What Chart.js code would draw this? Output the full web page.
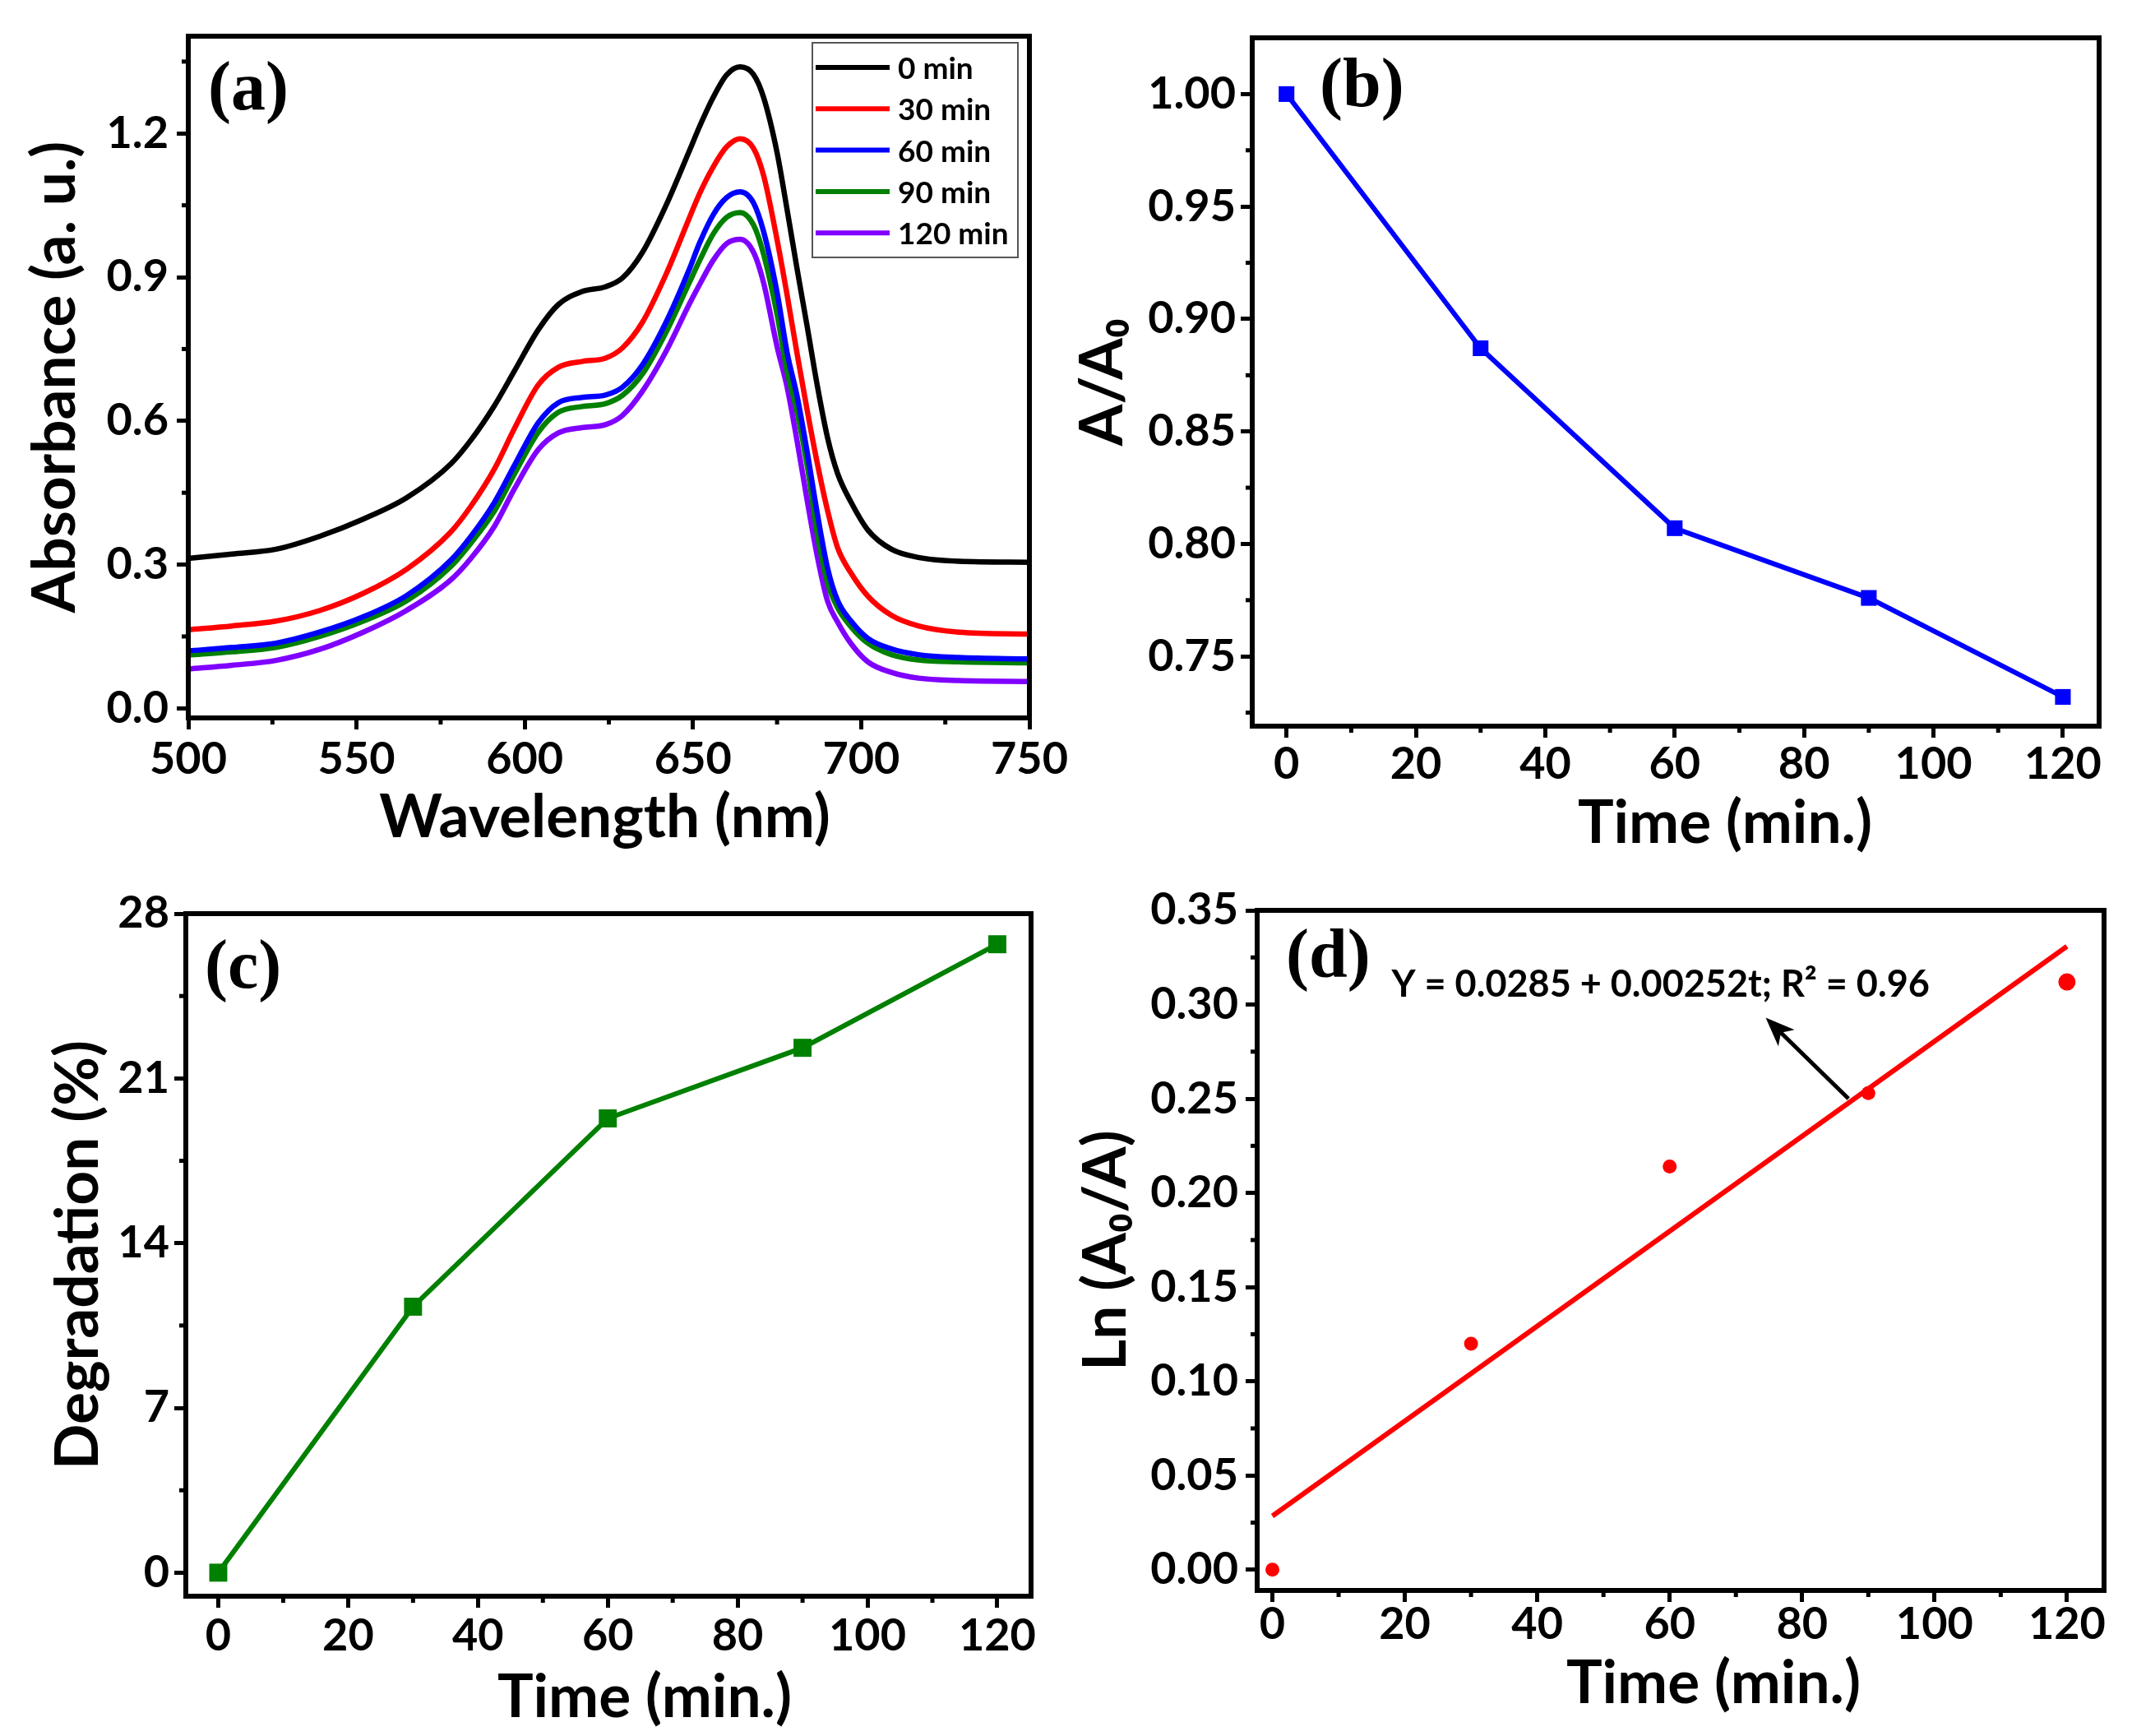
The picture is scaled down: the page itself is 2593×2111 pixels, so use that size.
<!DOCTYPE html>
<html lang="en">
<head>
  <meta charset="UTF-8">
  <title>Photocatalytic degradation</title>
  <script src="https://cdn.jsdelivr.net/npm/chart.js"></script>
  <style>
    body {
      margin: 0;
      background: #fff;
      width: 2593px;
      height: 2111px;
      position: relative;
      overflow: hidden;
    }
    canvas {
      position: absolute;
    }
  </style>
</head>
<body>
  <canvas id="chartA"></canvas>
  <canvas id="chartB"></canvas>
  <canvas id="chartC"></canvas>
  <canvas id="chartD"></canvas>

  <script>
    // (a) absorption spectra
    const wavelength = [500, 513, 526, 539, 552, 565, 578, 584, 591, 597, 604, 610, 617, 624, 629, 635, 642, 649, 652, 656,
      660, 664, 668, 671, 675, 678, 681, 684, 687, 690, 693, 697, 702, 709, 717, 729, 750];
    const abs0 = [0.313, 0.322, 0.332, 0.359, 0.395, 0.440, 0.510, 0.560, 0.632, 0.705, 0.790, 0.843, 0.870, 0.880, 0.898, 0.952, 1.050, 1.165, 1.215, 1.275,
      1.322, 1.339, 1.323, 1.275, 1.160, 1.040, 0.915, 0.795, 0.672, 0.565, 0.490, 0.430, 0.372, 0.332, 0.315, 0.307, 0.305];
    const abs30 = [0.164, 0.172, 0.182, 0.204, 0.240, 0.291, 0.368, 0.422, 0.500, 0.585, 0.675, 0.712, 0.724, 0.731, 0.752, 0.806, 0.906, 1.025, 1.075, 1.130,
      1.172, 1.189, 1.169, 1.112, 0.978, 0.862, 0.738, 0.620, 0.510, 0.413, 0.335, 0.282, 0.234, 0.194, 0.172, 0.159, 0.155];
    const abs60 = [0.120, 0.127, 0.136, 0.159, 0.191, 0.236, 0.309, 0.359, 0.430, 0.508, 0.596, 0.638, 0.649, 0.654, 0.670, 0.717, 0.806, 0.918, 0.972, 1.030,
      1.066, 1.078, 1.055, 0.995, 0.868, 0.742, 0.650, 0.533, 0.405, 0.293, 0.225, 0.182, 0.146, 0.124, 0.112, 0.106, 0.103];
    const abs90 = [0.111, 0.118, 0.127, 0.150, 0.182, 0.225, 0.296, 0.345, 0.412, 0.490, 0.576, 0.618, 0.630, 0.636, 0.653, 0.698, 0.785, 0.890, 0.935, 0.990,
      1.025, 1.035, 1.009, 0.948, 0.822, 0.703, 0.617, 0.505, 0.362, 0.262, 0.210, 0.170, 0.136, 0.112, 0.101, 0.097, 0.095];
    const abs120 = [0.082, 0.090, 0.100, 0.123, 0.159, 0.205, 0.268, 0.313, 0.380, 0.459, 0.540, 0.575, 0.586, 0.592, 0.611, 0.662, 0.745, 0.845, 0.885, 0.935,
      0.970, 0.979, 0.952, 0.888, 0.755, 0.670, 0.556, 0.432, 0.316, 0.224, 0.180, 0.135, 0.097, 0.075, 0.063, 0.058, 0.056];
    const spectraLabels = ['0 min', '30 min', '60 min', '90 min', '120 min'];
    const spectraColors = ['#000000', '#ff0000', '#0000ff', '#008000', '#8000ff'];
    const aXTicks = [500, 550, 600, 650, 700, 750];
    const aXMinor = [525, 575, 625, 675, 725];
    const aYTicks = [0.0, 0.3, 0.6, 0.9, 1.2];
    const aYMinor = [0.15, 0.45, 0.75, 1.05, 1.35];

    // (b)-(d) kinetics
    const time = [0, 30, 60, 90, 120];
    const ratio = [1.000, 0.887, 0.807, 0.776, 0.732];
    const degradation = [0, 11.3, 19.3, 22.3, 26.7];
    const lnRatio = [0.000, 0.120, 0.214, 0.253, 0.312];
    const fitTime = [0, 120];
    const fitLn = [0.0285, 0.3309];
    const timeTicks = [0, 20, 40, 60, 80, 100, 120];
    const timeMinor = [10, 30, 50, 70, 90, 110];
    const bYTicks = [0.75, 0.80, 0.85, 0.90, 0.95, 1.00];
    const bYMinor = [0.725, 0.775, 0.825, 0.875, 0.925, 0.975];
    const cYTicks = [0, 7, 14, 21, 28];
    const cYMinor = [3.5, 10.5, 17.5, 24.5];
    const dYTicks = [0.00, 0.05, 0.10, 0.15, 0.20, 0.25, 0.30, 0.35];
    const dYMinor = [0.025, 0.075, 0.125, 0.175, 0.225, 0.275, 0.325];
    const fitText = 'Y = 0.0285 + 0.00252t; R² = 0.96';
    const arrowFrom = [87, 0.250];
    const arrowTo = [74.5, 0.293];

    Chart.defaults.font.family = 'Lato';
    Chart.defaults.font.weight = 'bold';
    Chart.defaults.color = '#000';

    const TITLE_FONT = 'bold 73px Lato';

    function axis(o) {
      return {
        type: 'linear',
        min: o.min,
        max: o.max,
        afterBuildTicks: s => { s.ticks = o.ticks.map(v => ({ value: v })); },
        afterFit: s => {
          if (o.horizontal) s.height = o.size; else s.width = o.size;
          s.paddingLeft = s.paddingRight = s.paddingTop = s.paddingBottom = 0;
        },
        ticks: {
          font: { size: 54, weight: 'bold', lineHeight: 1 },
          padding: o.tickPad,
          maxRotation: 0,
          autoSkip: false,
          color: '#000',
          callback: v => v.toFixed(o.digits)
        },
        grid: { drawOnChartArea: false, drawTicks: true, tickLength: 14, tickWidth: 5, tickColor: '#000' },
        border: { display: false },
        title: {
          display: !!o.title,
          text: o.title || '',
          color: '#000',
          font: { size: 73, weight: 'bold', lineHeight: 1 },
          padding: { top: o.titlePad || 0, bottom: 0 }
        }
      };
    }

    // frame, minor ticks, panel letter and x title
    function decor(o) {
      return {
        id: 'decor',
        afterDraw(chart) {
          const { ctx, chartArea: a, scales } = chart;
          ctx.save();
          ctx.strokeStyle = '#000';
          ctx.lineWidth = 5;
          o.minorX.forEach(v => {
            const px = scales.x.getPixelForValue(v);
            ctx.beginPath(); ctx.moveTo(px, a.bottom); ctx.lineTo(px, a.bottom + 8); ctx.stroke();
          });
          o.minorY.forEach(v => {
            const py = scales.y.getPixelForValue(v);
            ctx.beginPath(); ctx.moveTo(a.left, py); ctx.lineTo(a.left - 8, py); ctx.stroke();
          });
          ctx.lineWidth = 6;
          ctx.strokeRect(a.left, a.top, a.right - a.left, a.bottom - a.top);
          ctx.fillStyle = '#000';
          ctx.font = 'bold 84px "Liberation Serif"';
          ctx.textAlign = 'left';
          ctx.textBaseline = 'alphabetic';
          ctx.fillText(o.label, a.left + o.labelDx, a.top + o.labelDy);
          ctx.font = TITLE_FONT;
          ctx.textAlign = 'center';
          ctx.textBaseline = 'middle';
          ctx.fillText(o.xTitle, (a.left + a.right) / 2 + o.xTitleDx, a.bottom + o.xTitleDy);
          ctx.restore();
        }
      };
    }

    const spectraLegend = {
      id: 'spectraLegend',
      afterDraw(chart) {
        const { ctx, chartArea: a } = chart;
        const x = a.right - 264, y = a.top + 8, w = 250, h = 261;
        ctx.save();
        ctx.fillStyle = '#fff';
        ctx.fillRect(x, y, w, h);
        ctx.strokeStyle = '#555';
        ctx.lineWidth = 2;
        ctx.strokeRect(x, y, w, h);
        ctx.font = 'bold 37px Lato';
        ctx.textBaseline = 'middle';
        ctx.textAlign = 'left';
        chart.data.datasets.forEach((ds, i) => {
          const cy = y + 30 + i * 50.3;
          ctx.strokeStyle = ds.borderColor;
          ctx.lineWidth = 6;
          ctx.beginPath(); ctx.moveTo(x + 4, cy); ctx.lineTo(x + 94, cy); ctx.stroke();
          ctx.fillStyle = '#000';
          ctx.fillText(ds.label, x + 104, cy + 2);
        });
        ctx.restore();
      }
    };

    const fitNote = {
      id: 'fitNote',
      afterDraw(chart) {
        const { ctx, scales: { x, y } } = chart;
        ctx.save();
        ctx.fillStyle = '#000';
        ctx.font = 'bold 45px Lato';
        ctx.textBaseline = 'alphabetic';
        ctx.fillText(fitText, x.getPixelForValue(18), y.getPixelForValue(0.304));
        const x1 = x.getPixelForValue(arrowFrom[0]), y1 = y.getPixelForValue(arrowFrom[1]);
        const x2 = x.getPixelForValue(arrowTo[0]), y2 = y.getPixelForValue(arrowTo[1]);
        const ang = Math.atan2(y2 - y1, x2 - x1);
        ctx.strokeStyle = '#000';
        ctx.lineWidth = 5;
        ctx.beginPath(); ctx.moveTo(x1, y1);
        ctx.lineTo(x2 - 22 * Math.cos(ang), y2 - 22 * Math.sin(ang)); ctx.stroke();
        ctx.beginPath();
        ctx.moveTo(x2, y2);
        ctx.lineTo(x2 - 38 * Math.cos(ang - 0.38), y2 - 38 * Math.sin(ang - 0.38));
        ctx.lineTo(x2 - 26 * Math.cos(ang), y2 - 26 * Math.sin(ang));
        ctx.lineTo(x2 - 38 * Math.cos(ang + 0.38), y2 - 38 * Math.sin(ang + 0.38));
        ctx.closePath();
        ctx.fill();
        ctx.restore();
      }
    };

    function place(id, left, top, width, height) {
      const c = document.getElementById(id);
      c.width = width; c.height = height;
      c.style.left = left + 'px'; c.style.top = top + 'px';
      return c;
    }

    const common = {
      responsive: false,
      animation: false,
      devicePixelRatio: 1,
      events: [],
      plugins: { legend: { display: false }, tooltip: { enabled: false } }
    };

    const xy = (xs, ys) => xs.map((v, i) => ({ x: v, y: ys[i] }));

    // (a)
    new Chart(place('chartA', 0, 0, 1305, 1050), {
      type: 'line',
      data: {
        datasets: [abs0, abs30, abs60, abs90, abs120].map((s, i) => ({
          label: spectraLabels[i],
          data: xy(wavelength, s),
          borderColor: spectraColors[i],
          borderWidth: 6.5,
          pointRadius: 0,
          cubicInterpolationMode: 'monotone'
        }))
      },
      options: {
        ...common,
        layout: { padding: { left: 0, top: 44, right: 53, bottom: 0 } },
        scales: {
          x: axis({ horizontal: true, min: 500, max: 750, ticks: aXTicks, digits: 0, size: 177, tickPad: 10 }),
          y: axis({ min: -0.02, max: 1.403, ticks: aYTicks, digits: 1, size: 229, tickPad: 10,
            title: 'Absorbance (a. u.)', titlePad: 31 })
        }
      },
      plugins: [decor({ minorX: aXMinor, minorY: aYMinor, label: '(a)', labelDx: 24, labelDy: 89,
        xTitle: 'Wavelength (nm)', xTitleDx: -5, xTitleDy: 121 }), spectraLegend]
    });

    // (b)
    new Chart(place('chartB', 1305, 0, 1288, 1050), {
      type: 'line',
      data: {
        datasets: [{
          data: xy(time, ratio),
          borderColor: '#0000ff',
          backgroundColor: '#0000ff',
          borderWidth: 6,
          pointStyle: 'rect',
          pointRadius: 13.5,
          pointBorderWidth: 0
        }]
      },
      options: {
        ...common,
        layout: { padding: { left: 0, top: 46, right: 40, bottom: 0 } },
        scales: {
          x: axis({ horizontal: true, min: -5.3, max: 125.6, ticks: timeTicks, digits: 0, size: 167, tickPad: 6 }),
          y: axis({ min: 0.719, max: 1.025, ticks: bYTicks, digits: 2, size: 218, tickPad: 6,
            title: 'A/A₀', titlePad: 0 })
        }
      },
      plugins: [decor({ minorX: timeMinor, minorY: bYMinor, label: '(b)', labelDx: 82, labelDy: 83,
        xTitle: 'Time (min.)', xTitleDx: 60, xTitleDy: 118 })]
    });

    // (c)
    new Chart(place('chartC', 0, 1050, 1305, 1061), {
      type: 'line',
      data: {
        datasets: [{
          data: xy(time, degradation),
          borderColor: '#008000',
          backgroundColor: '#008000',
          borderWidth: 6,
          pointStyle: 'rect',
          pointRadius: 15.5,
          pointBorderWidth: 0
        }]
      },
      options: {
        ...common,
        layout: { padding: { left: 0, top: 61, right: 51, bottom: 0 } },
        scales: {
          x: axis({ horizontal: true, min: -5, max: 125.2, ticks: timeTicks, digits: 0, size: 170, tickPad: 8 }),
          y: axis({ min: -1, max: 28, ticks: cYTicks, digits: 0, size: 226, tickPad: 6,
            title: 'Degradation (%)', titlePad: 59 })
        }
      },
      plugins: [decor({ minorX: timeMinor, minorY: cYMinor, label: '(c)', labelDx: 23, labelDy: 90,
        xTitle: 'Time (min.)', xTitleDx: 44, xTitleDy: 123 })]
    });

    // (d)
    new Chart(place('chartD', 1305, 1050, 1288, 1061), {
      type: 'line',
      data: {
        datasets: [{
          data: xy(fitTime, fitLn),
          borderColor: '#ff0000',
          borderWidth: 6,
          pointRadius: 0
        }, {
          data: xy(time, lnRatio),
          showLine: false,
          backgroundColor: '#ff0000',
          borderColor: '#ff0000',
          pointStyle: 'circle',
          pointRadius: [8.5, 8.5, 8.5, 8.5, 10.5],
          pointBorderWidth: 0
        }]
      },
      options: {
        ...common,
        layout: { padding: { left: 0, top: 57, right: 34, bottom: 0 } },
        scales: {
          x: axis({ horizontal: true, min: -2.3, max: 125.6, ticks: timeTicks, digits: 0, size: 177, tickPad: 1 }),
          y: axis({ min: -0.011, max: 0.35, ticks: dYTicks, digits: 2, size: 224, tickPad: 9,
            title: 'Ln (A₀/A)', titlePad: 4 })
        }
      },
      plugins: [decor({ minorX: timeMinor, minorY: dYMinor, label: '(d)', labelDx: 35, labelDy: 81,
        xTitle: 'Time (min.)', xTitleDx: 40, xTitleDy: 113 }), fitNote]
    });
  </script>
</body>
</html>
